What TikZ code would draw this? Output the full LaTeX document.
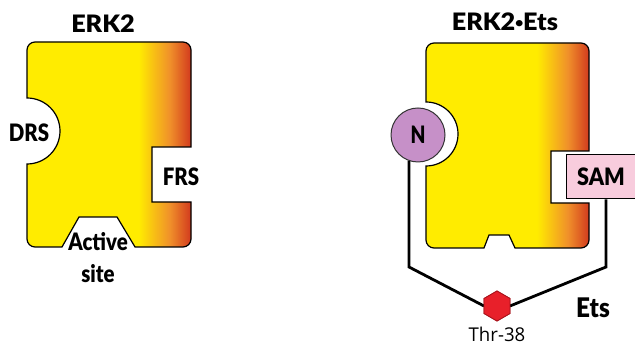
\documentclass[tikz,border=0pt]{standalone}
\usepackage{fontspec}
\setmainfont{DejaVu Sans}
\newfontfamily\heavyfont{Lato Black}
\newfontfamily\labelfont{Open Sans}
\usetikzlibrary{shapes.geometric}

\definecolor{kyellow}{HTML}{FFEC00}
\definecolor{korange}{HTML}{F0902A}
\definecolor{kred}{HTML}{D23A1E}
\definecolor{npurple}{HTML}{C690C8}
\definecolor{sampink}{HTML}{F8CCDD}
\definecolor{hexred}{HTML}{E8202A}
\definecolor{hexedge}{HTML}{A8141C}

% the path box maps onto 25bp..75bp of the shading
\pgfdeclarehorizontalshading{kinase}{100bp}{%
  color(0bp)=(kyellow); color(25bp)=(kyellow); color(59bp)=(kyellow);
  color(68.5bp)=(korange); color(75bp)=(kred); color(100bp)=(kred)}

\newcommand\smalldot{\raisebox{3.2pt}{\fontsize{13}{13}\selectfont •}}

\tikzset{
  kinase body/.style={draw=black, line width=1.2pt, shading=kinase},
  heavy/.style={font=\heavyfont\fontsize{24}{24}\selectfont, inner sep=0pt},
  tether/.style={draw=black, line width=2.8pt, line join=miter},
  hexagon/.style={regular polygon, regular polygon sides=6, shape border rotate=30,
      minimum size=30pt, inner sep=0pt, outer sep=0pt,
      fill=hexred, draw=hexedge, line width=0.8pt},
}

\begin{document}
\begin{tikzpicture}[x=1pt, y=1pt]
\useasboundingbox (0,0) rectangle (635,350);

% ---- free ERK2 ----
\path[kinase body]
  (27,111) -- (27,186) arc[start angle=-90, end angle=90, radius=33]
  -- (27,300) arc[start angle=180, end angle=90, radius=8]
  -- (183,308) arc[start angle=90, end angle=0, radius=8]
  -- (191,203) -- (152,203) -- (152,148) -- (191,148)
  -- (191,111) arc[start angle=0, end angle=-90, radius=8]
  -- (135,103) -- (117,133) -- (79,133) -- (62,103)
  -- (35,103) arc[start angle=270, end angle=180, radius=8] -- cycle;

\node[heavy, xscale=1.05] (t1) at (103,326) {ERK2};
\node[heavy, xscale=0.85] (drs) at (29,217) {DRS};
\node[heavy, xscale=0.85] (frs) at (181,173) {FRS};
\node[heavy, xscale=0.85] (act) at (98,108) {Active};
\node[heavy, xscale=0.85] (site) at (98,76) {site};

% ---- ERK2 bound to Ets ----
\path[kinase body]
  (426,110) -- (426,184) arc[start angle=-90, end angle=90, radius=32]
  -- (426,299) arc[start angle=180, end angle=90, radius=8]
  -- (581,307) arc[start angle=90, end angle=0, radius=8]
  -- (589,199) -- (551,199) -- (551,147) -- (589,147)
  -- (589,110) arc[start angle=0, end angle=-90, radius=8]
  -- (515,102) -- (509,115) -- (489,115) -- (484,102)
  -- (434,102) arc[start angle=270, end angle=180, radius=8] -- cycle;

\node[heavy, xscale=1.05] (t2) at (505,328) {ERK2\smalldot Ets};

\node[circle, draw=black!80, line width=1pt, fill=npurple,
      minimum size=54pt, inner sep=0pt] (n) at (418,215) {};
\node[heavy, xscale=0.8] at (n.center) {N};

\node[rectangle, draw=black, line width=1pt, fill=sampink,
      minimum width=70pt, minimum height=44pt, inner sep=0pt] (sam) at (601,173) {};
\node[heavy, xscale=0.9] at (sam.center) {SAM};

\node[hexagon] (thr) at (497,44) {};

\coordinate (nbend) at (409,83);
\coordinate (sbend) at (606,83);
\path[tether] (n.-109) -- (nbend) -- (thr.west);
\path[tether] ([xshift=5pt]sam.south) -- (sbend) -- (thr.east);
\node[hexagon] at (thr.center) {};

\node[font=\heavyfont\fontsize{27}{27}\selectfont, inner sep=0pt, xscale=0.9] (ets) at (593,42) {Ets};
\node[font=\labelfont\fontsize{19}{19}\selectfont, inner sep=0pt, xscale=0.98] (thrlab) at (497,16) {Thr-38};
\end{tikzpicture}
\end{document}
